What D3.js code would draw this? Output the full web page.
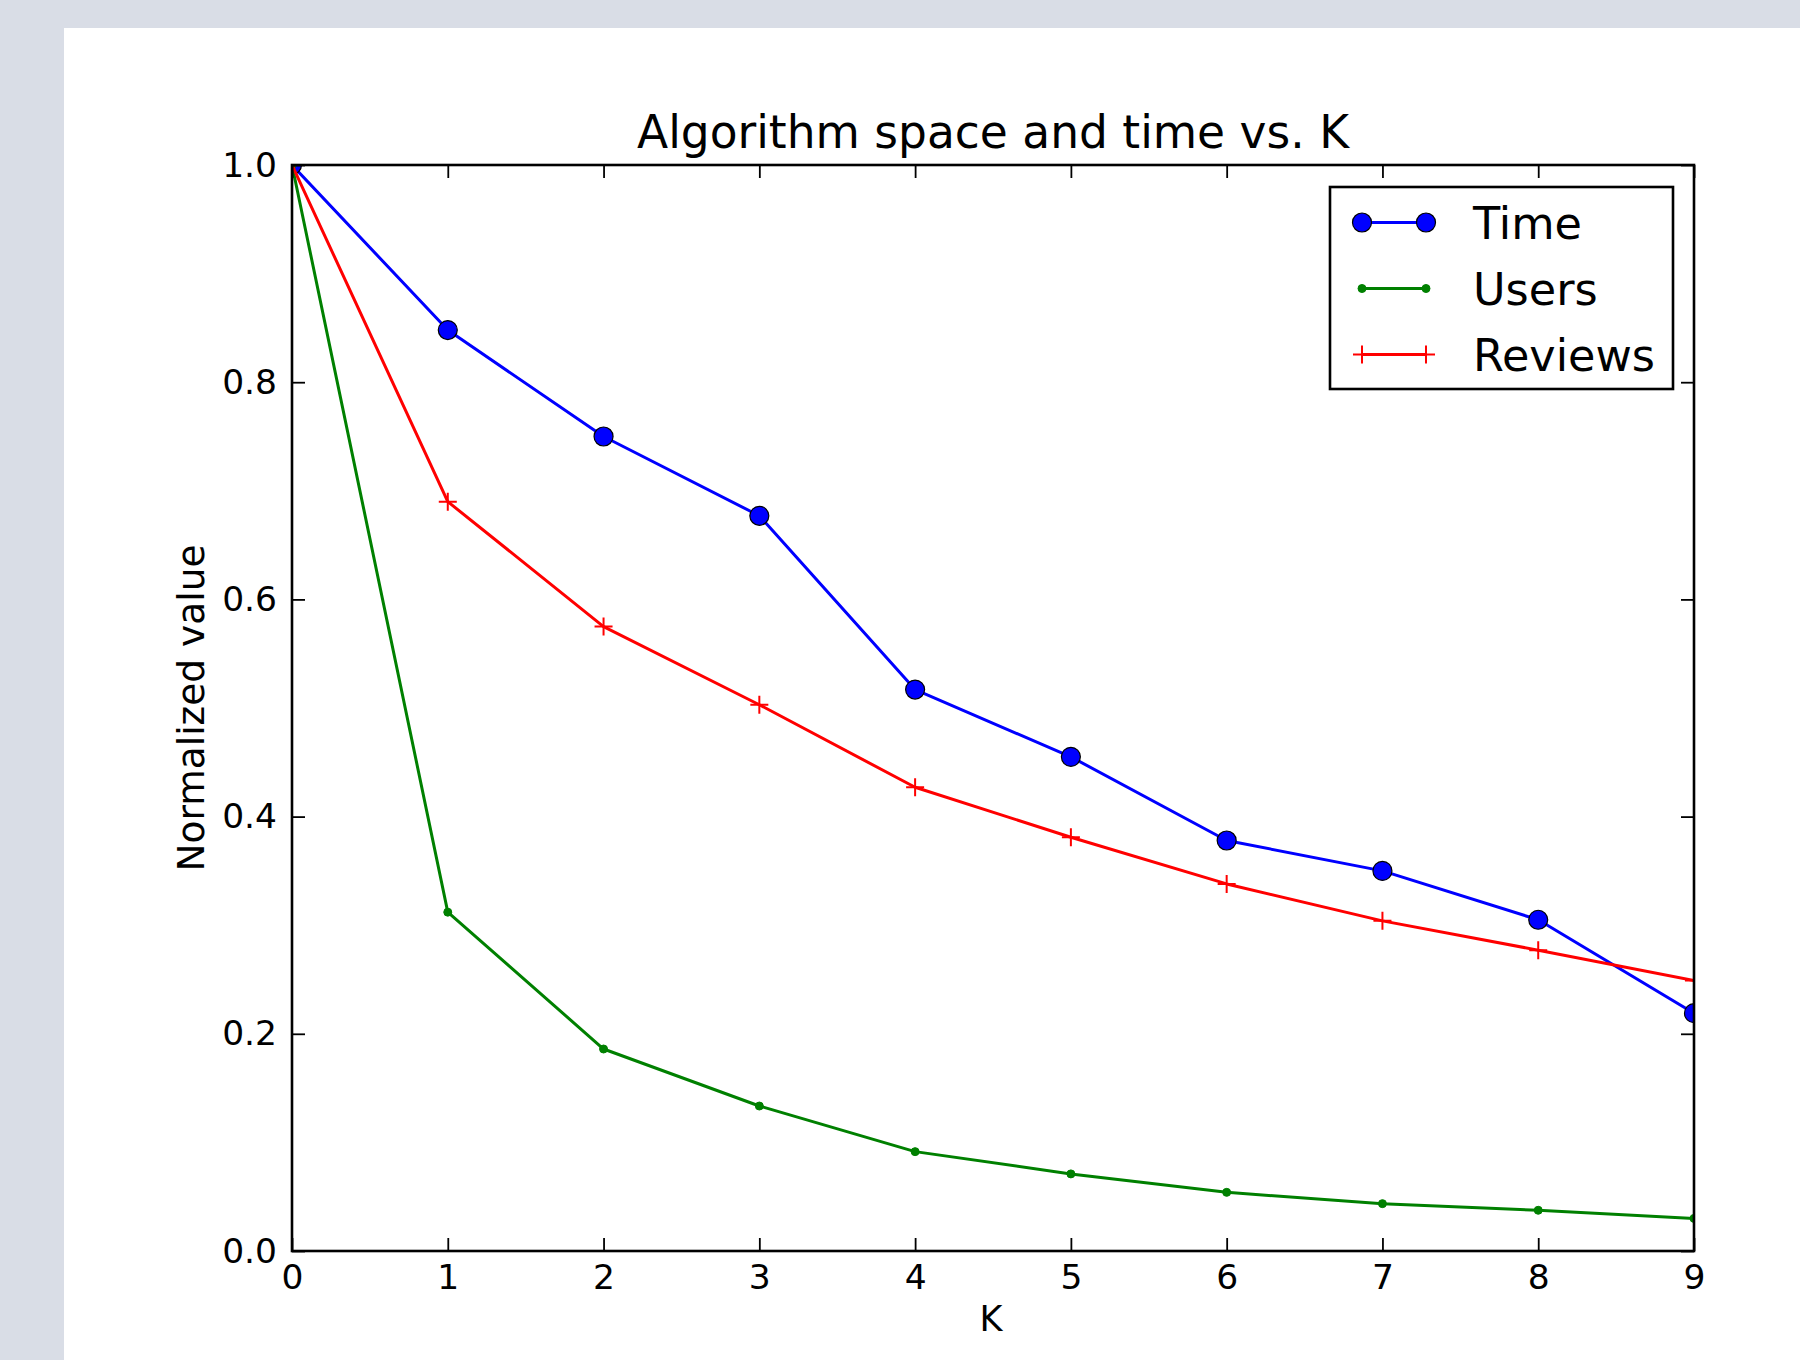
<!DOCTYPE html>
<html>
<head>
<meta charset="utf-8">
<script src="https://cdn.jsdelivr.net/npm/d3@7"></script>
<style>
  html, body { margin: 0; padding: 0; background: #d9dde6; }
  svg { display: block; font-family: "DejaVu Sans", sans-serif; }
</style>
</head>
<body>
<script>
// ---- data ----
const kValues = [0, 1, 2, 3, 4, 5, 6, 7, 8, 9];
const timeValues = [1.0, 0.848, 0.750, 0.677, 0.517, 0.455, 0.378, 0.350, 0.305, 0.219];
const usersValues = [1.0, 0.312, 0.186, 0.1335, 0.0915, 0.071, 0.054, 0.0436, 0.0375, 0.030];
const reviewsValues = [1.0, 0.690, 0.575, 0.503, 0.427, 0.381, 0.338, 0.304, 0.277, 0.249];
const xTickValues = [0, 1, 2, 3, 4, 5, 6, 7, 8, 9];
const yTickValues = [0.0, 0.2, 0.4, 0.6, 0.8, 1.0];
const yTickLabels = ["0.0", "0.2", "0.4", "0.6", "0.8", "1.0"];
const seriesNames = ["Time", "Users", "Reviews"];
const seriesColors = ["#0000ff", "#008000", "#ff0000"];
const titleText = "Algorithm space and time vs. K";
const xLabelText = "K";
const yLabelText = "Normalized value";

const W = 1800, H = 1360;
const plot = { left: 292, right: 1694, top: 165, bottom: 1251 };

const svg = d3.select("body").append("svg").attr("width", W).attr("height", H);

// page background + white figure
svg.append("rect").attr("x", 0).attr("y", 0).attr("width", W).attr("height", H).attr("fill", "#d9dde6");
svg.append("rect").attr("x", 64).attr("y", 28).attr("width", W - 64).attr("height", H - 28).attr("fill", "#ffffff");

const x = d3.scaleLinear().domain([0, 9]).range([plot.left, plot.right]);
const y = d3.scaleLinear().domain([0, 1]).range([plot.bottom, plot.top]);

svg.append("clipPath").attr("id", "clip")
  .append("rect").attr("x", plot.left).attr("y", plot.top)
  .attr("width", plot.right - plot.left).attr("height", plot.bottom - plot.top);

const series = [
  { name: seriesNames[0], color: seriesColors[0], values: timeValues, marker: "circle" },
  { name: seriesNames[1], color: seriesColors[1], values: usersValues, marker: "dot" },
  { name: seriesNames[2], color: seriesColors[2], values: reviewsValues, marker: "plus" }
];

const line = d3.line().x(d => x(d[0])).y(d => y(d[1]));

function drawMarker(g, kind, color, cx, cy) {
  if (kind === "circle") {
    g.append("circle").attr("cx", cx).attr("cy", cy).attr("r", 9.5)
      .attr("fill", color).attr("stroke", "#000").attr("stroke-width", 1.2);
  } else if (kind === "dot") {
    g.append("circle").attr("cx", cx).attr("cy", cy).attr("r", 4)
      .attr("fill", color).attr("stroke", color).attr("stroke-width", 1);
  } else {
    g.append("path").attr("d", `M${cx - 9},${cy}H${cx + 9}M${cx},${cy - 9}V${cy + 9}`)
      .attr("stroke", color).attr("stroke-width", 2).attr("fill", "none");
  }
}

const dataG = svg.append("g").attr("clip-path", "url(#clip)");
series.forEach(s => {
  const pts = kValues.map((k, i) => [k, s.values[i]]);
  const g = dataG.append("g");
  g.append("path").datum(pts).attr("d", line)
    .attr("fill", "none").attr("stroke", s.color).attr("stroke-width", 3)
    .attr("stroke-linejoin", "round");
  pts.forEach(p => drawMarker(g, s.marker, s.color, x(p[0]), y(p[1])));
});

// axes (ticks inward on all four sides)
const tickLen = 13;
const fontTick = 34.5;
function styleAxis(g) {
  g.select(".domain").remove();
  g.selectAll(".tick line").attr("stroke", "#000").attr("stroke-width", 1.8);
  g.selectAll(".tick text").attr("fill", "#000").attr("font-size", fontTick)
    .attr("font-family", "DejaVu Sans, sans-serif");
}
svg.append("g").attr("transform", `translate(0,${plot.bottom})`)
  .call(d3.axisBottom(x).tickValues(xTickValues).tickSize(-tickLen).tickPadding(14).tickFormat(d3.format("d")))
  .call(styleAxis);
svg.append("g").attr("transform", `translate(0,${plot.top})`)
  .call(d3.axisTop(x).tickValues(xTickValues).tickSize(-tickLen).tickFormat(""))
  .call(styleAxis);
svg.append("g").attr("transform", `translate(${plot.left},0)`)
  .call(d3.axisLeft(y).tickValues(yTickValues).tickSize(-tickLen).tickPadding(15)
    .tickFormat((d, i) => yTickLabels[i]))
  .call(styleAxis);
svg.append("g").attr("transform", `translate(${plot.right},0)`)
  .call(d3.axisRight(y).tickValues(yTickValues).tickSize(-tickLen).tickFormat(""))
  .call(styleAxis);

// spines
svg.append("rect").attr("x", plot.left).attr("y", plot.top)
  .attr("width", plot.right - plot.left).attr("height", plot.bottom - plot.top)
  .attr("fill", "none").attr("stroke", "#000").attr("stroke-width", 2.6);

// title and labels
svg.append("text").attr("x", (plot.left + plot.right) / 2).attr("y", 148)
  .attr("text-anchor", "middle").attr("font-size", 45.5).attr("fill", "#000").text(titleText);
svg.append("text").attr("x", (plot.left + plot.right) / 2 - 2).attr("y", 1331)
  .attr("text-anchor", "middle").attr("font-size", 35).attr("fill", "#000").text(xLabelText);
svg.append("text").attr("transform", `translate(204,${(plot.top + plot.bottom) / 2}) rotate(-90)`)
  .attr("text-anchor", "middle").attr("font-size", 37.5).attr("fill", "#000").text(yLabelText);

// legend
const legend = svg.append("g");
legend.append("rect").attr("x", 1330).attr("y", 187).attr("width", 343).attr("height", 202)
  .attr("fill", "#fff").attr("stroke", "#000").attr("stroke-width", 2.6);
const rowY = [222.5, 288.5, 354.5];
series.forEach((s, i) => {
  const ry = rowY[i];
  legend.append("line").attr("x1", 1362).attr("x2", 1426).attr("y1", ry).attr("y2", ry)
    .attr("stroke", s.color).attr("stroke-width", 3);
  drawMarker(legend, s.marker, s.color, 1362, ry);
  drawMarker(legend, s.marker, s.color, 1426, ry);
  legend.append("text").attr("x", 1473).attr("y", ry).attr("dy", "0.36em")
    .attr("font-size", 44.5).attr("fill", "#000").text(s.name);
});
</script>
</body>
</html>
